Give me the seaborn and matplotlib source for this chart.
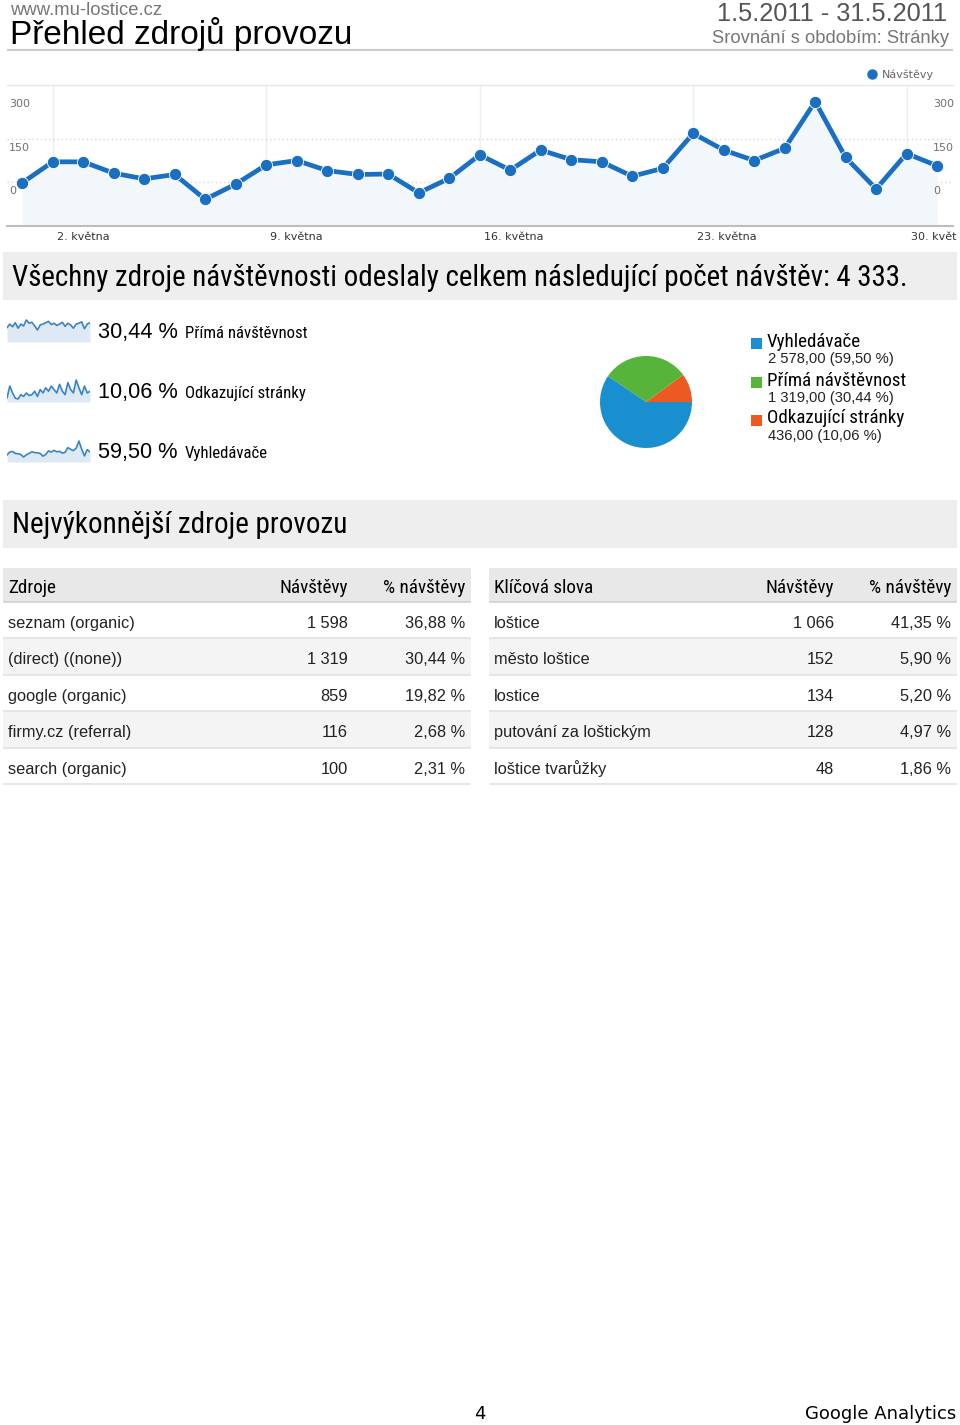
import numpy as np
import pandas as pd
import matplotlib
matplotlib.use("Agg")
import matplotlib.pyplot as plt
import matplotlib.transforms as mtransforms
from matplotlib.patches import Rectangle
from matplotlib.lines import Line2D
from matplotlib import font_manager
import seaborn as sns

# ---------------- data ----------------
site_name = "www.mu-lostice.cz"
report_title = "Přehled zdrojů provozu"
date_range = "1.5.2011 - 31.5.2011"
compare_text = "Srovnání s obdobím: Stránky"

days = list(range(1, 32))
visits = [99, 147, 147, 121, 108, 118, 61, 96, 140, 150, 127, 118, 119, 76, 109, 163,
          128, 174, 152, 147, 114, 132, 212, 174, 150, 178, 285, 157, 85, 166, 138]
series_name = "Návštěvy"
x_tick_days = [2, 9, 16, 23, 30]
x_tick_labels = ["2. května", "9. května", "16. května", "23. května", "30. květ"]
y_label_values = [100, 200, 300]
y_grid_values = [100, 200]
y_tick_labels = ["0", "150", "300"]

total_text = "Všechny zdroje návštěvnosti odeslaly celkem následující počet návštěv: 4 333."

spark_names = ["Přímá návštěvnost", "Odkazující stránky", "Vyhledávače"]
spark_pcts = ["30,44 %", "10,06 %", "59,50 %"]
spark_direct = [36, 44, 38, 47, 35, 44, 40, 53, 46, 48, 40, 31, 42, 44, 47, 50,
                43, 46, 41, 44, 48, 39, 46, 42, 35, 44, 46, 49, 34, 44, 47]
spark_referral = [6, 20, 12, 6, 5, 10, 8, 12, 9, 10, 14, 8, 16, 12, 18, 14,
                  20, 16, 12, 22, 14, 10, 24, 16, 12, 27, 18, 10, 20, 12, 14]
spark_search = [58, 80, 84, 70, 68, 62, 44, 60, 70, 82, 76, 74, 70, 50, 62, 88,
                80, 92, 82, 85, 72, 78, 112, 100, 90, 108, 160, 100, 52, 98, 80]

pie_labels = ["Odkazující stránky", "Přímá návštěvnost", "Vyhledávače"]
pie_values = [436, 1319, 2578]
pie_colors = ["#ec5a22", "#56b43a", "#1a8fd0"]
legend_names = ["Vyhledávače", "Přímá návštěvnost", "Odkazující stránky"]
legend_values = ["2 578,00 (59,50 %)", "1 319,00 (30,44 %)", "436,00 (10,06 %)"]
legend_colors = ["#1a8fd0", "#56b43a", "#ec5a22"]

section_title = "Nejvýkonnější zdroje provozu"
src_header = ["Zdroje", "Návštěvy", "% návštěvy"]
src_names = ["seznam (organic)", "(direct) ((none))", "google (organic)",
             "firmy.cz (referral)", "search (organic)"]
src_visits = [1598, 1319, 859, 116, 100]
src_pct = [36.88, 30.44, 19.82, 2.68, 2.31]
kw_header = ["Klíčová slova", "Návštěvy", "% návštěvy"]
kw_names = ["loštice", "město loštice", "lostice", "putování za loštickým", "loštice tvarůžky"]
kw_visits = [1066, 152, 134, 128, 48]
kw_pct = [41.35, 5.90, 5.20, 4.97, 1.86]
page_number = "4"
footer_brand = "Google Analytics"

# ---------------- style ----------------
sns.set_style("white")
plt.rcParams["font.family"] = ["DejaVu Sans"]

SANS = "Liberation Sans"
avail = {f.name for f in font_manager.fontManager.ttflist}
pref = ["Roboto Condensed", "Archivo Narrow", "Liberation Sans"]
NARROW_NAME = next((p for p in pref if p in avail), "Liberation Sans")
NARROW = [NARROW_NAME, "Liberation Sans"]
NW = "normal"

BLUE = "#1a6fc0"
W, H = 960, 1425
fig = plt.figure(figsize=(W / 100, H / 100), dpi=100)
fig.patch.set_facecolor("white")
renderer = fig.canvas.get_renderer()


def rect(x0, y0, x1, y1):
    return [x0 / W, 1 - y1 / H, (x1 - x0) / W, (y1 - y0) / H]


def fit(t, target):
    w = t.get_window_extent(renderer).width
    if w > 0:
        t.set_fontsize(t.get_fontsize() * target / w)
    return t.get_fontsize()


bg = fig.add_axes([0, 0, 1, 1])
bg.set_xlim(0, W)
bg.set_ylim(H, 0)
bg.axis("off")

# ---------------- header ----------------
bg.text(10, 14.5, site_name, family=SANS, size=13.3, color="#777777", va="baseline")
bg.text(10, 44, report_title, family=SANS, size=24, color="black", va="baseline")
bg.text(947, 21, date_range, family=SANS, size=18.3, color="#555555", ha="right", va="baseline")
bg.text(949, 43, compare_text, family=SANS, size=13.2, color="#777777", ha="right", va="baseline")
bg.hlines(50, 7, 953, color="#cccccc", lw=1.5)

# ---------------- main line chart ----------------
ax = fig.add_axes(rect(7, 85, 953, 226))
df = pd.DataFrame({"day": days, "visits": visits})
ax.fill_between(df["day"], df["visits"], color="#f2f7fb", zorder=1, lw=0)
sns.lineplot(data=df, x="day", y="visits", ax=ax, color=BLUE, lw=3.4, marker="o",
             markersize=8.8, markeredgecolor="white", markeredgewidth=0.6, zorder=3,
             legend=False)
ax.set_xlim(0.5, 31.52)
ax.set_ylim(0, 323)
ax.set_xlabel("")
ax.set_ylabel("")
ax.set_yticks(y_grid_values)
ax.tick_params(axis="y", length=0, labelleft=False)
ax.yaxis.grid(True, ls=(0, (1, 2)), color="#d5d5d5", lw=1)
ax.set_xticks(x_tick_days)
ax.set_xticklabels(x_tick_labels, fontsize=8, color="#333333")
ax.tick_params(axis="x", length=8, width=1, color="#c8c8c8", direction="out", pad=-3.5)
shift = mtransforms.ScaledTranslation(4 / 100, 0, fig.dpi_scale_trans)
for lbl in ax.get_xticklabels():
    lbl.set_ha("left")
    lbl.set_transform(lbl.get_transform() + shift)
ax.xaxis.grid(True, color="#eeeeee", lw=1)
for s in ["left", "right"]:
    ax.spines[s].set_visible(False)
ax.spines["top"].set_color("#e6e6e6")
ax.spines["top"].set_linewidth(1)
ax.spines["bottom"].set_color("#bdbdbd")
ax.spines["bottom"].set_linewidth(1.5)

trans_y = mtransforms.blended_transform_factory(ax.transAxes, ax.transData)
down = mtransforms.ScaledTranslation(0, -4 / 100, fig.dpi_scale_trans)
for v, lab in zip(y_label_values, y_tick_labels):
    ax.text(0.002, v, lab, transform=trans_y + down, ha="left", va="top",
            fontsize=8, color="#707070")
    ax.text(0.979, v, lab, transform=trans_y + down, ha="left", va="top",
            fontsize=8, color="#707070")

handle = Line2D([], [], ls="", marker="o", color=BLUE, markersize=6.5)
ax.legend([handle], [series_name], loc="center right", frameon=False,
          bbox_to_anchor=(934 / W, 1 - 75 / H), bbox_transform=fig.transFigure,
          fontsize=8, labelcolor="#666666", handletextpad=0.4, handlelength=1.0,
          borderpad=0, borderaxespad=0)

# ---------------- banner ----------------
bg.add_patch(Rectangle((3, 252), 954, 48, color="#eeeeee", lw=0))
t = bg.text(12, 286, total_text, family=NARROW, weight=NW, size=20, color="black", va="baseline")
fit(t, 896)

# ---------------- sparklines ----------------
spark_sets = [spark_direct, spark_referral, spark_search]
spark_boxes = [(316, 342, 4, 12), (376, 402, 4, 3), (436, 462, 5, 5)]
spark_base = [338, 398, 458]
spark_txt = []
for vals, (y0, y1, tm, bm), base, pct, nm in zip(spark_sets, spark_boxes, spark_base,
                                                 spark_pcts, spark_names):
    axs = fig.add_axes(rect(7, y0, 90, y1))
    axs.patch.set_alpha(0)
    vmin, vmax = min(vals), max(vals)
    inner = (y1 - y0) - tm - bm
    per = (vmax - vmin) / inner
    lo = vmin - bm * per
    hi = vmax + tm * per
    axs.fill_between(days, vals, lo, color="#dde9f5", lw=0)
    sns.lineplot(x=days, y=vals, ax=axs, color="#3b84c4", lw=1.2)
    axs.set_xlim(1, 31)
    axs.set_ylim(lo, hi)
    axs.axis("off")
    bg.text(98, base, pct, family=SANS, size=15.7, color="black", va="baseline")
    spark_txt.append(bg.text(185, base, nm, family=NARROW, weight=NW, size=11, color="black", va="baseline"))
fs = fit(spark_txt[0], 122)
for tt in spark_txt[1:]:
    tt.set_fontsize(fs)

# ---------------- pie ----------------
axp = fig.add_axes(rect(600, 356, 692, 448))
axp.pie(pie_values, colors=pie_colors, startangle=0, counterclock=True, radius=1,
        wedgeprops=dict(linewidth=0))
axp.set_xlim(-1, 1)
axp.set_ylim(-1, 1)
axp.set_aspect("equal")

leg_sq = [338, 377, 415]
leg_nm = [346.5, 385.5, 423]
leg_val = [363, 401.5, 440]
leg_txt = []
for c, n, v, sy, ny, vy in zip(legend_colors, legend_names, legend_values, leg_sq, leg_nm, leg_val):
    bg.add_patch(Rectangle((750.5, sy), 11, 11, color=c, lw=0))
    leg_txt.append(bg.text(767, ny, n, family=NARROW, weight=NW, size=12, color="black", va="baseline"))
    bg.text(768, vy, v, family=SANS, size=10.6, color="#222222", va="baseline")
fs = fit(leg_txt[1], 139)
for tt in leg_txt:
    tt.set_fontsize(fs)

# ---------------- section title ----------------
bg.add_patch(Rectangle((3, 500), 954, 48, color="#eeeeee", lw=0))
t = bg.text(12, 533, section_title, family=NARROW, weight=NW, size=20, color="black", va="baseline")
fit(t, 335)


# ---------------- tables ----------------
def fmt_int(v):
    return f"{v:,}".replace(",", " ")


def fmt_pct(p):
    return f"{p:.2f} %".replace(".", ",")


hdr_txt = []


def draw_table(x0, x1, header, names, vals, pcts, c2, c3):
    top, hb, rh = 568, 602, 36.4
    bg.add_patch(Rectangle((x0, top), x1 - x0, hb - top, color="#e8e8e8", lw=0))
    bg.hlines(hb, x0, x1, color="#d2d2d2", lw=1.2)
    hdr_txt.append(bg.text(x0 + 5, 593, header[0], family=NARROW, weight=NW, size=12, color="black", va="baseline"))
    hdr_txt.append(bg.text(c2, 593, header[1], family=NARROW, weight=NW, size=12, color="black", va="baseline", ha="right"))
    hdr_txt.append(bg.text(c3, 593, header[2], family=NARROW, weight=NW, size=12, color="black", va="baseline", ha="right"))
    for i, (n, v, p) in enumerate(zip(names, vals, pcts)):
        ry = hb + i * rh
        if i % 2 == 1:
            bg.add_patch(Rectangle((x0, ry), x1 - x0, rh, color="#f4f4f4", lw=0))
        bg.hlines(ry + rh, x0, x1, color="#e2e2e2", lw=1.2)
        by = ry + 26
        bg.text(x0 + 5, by, n, family=SANS, size=11.8, color="#222222", va="baseline")
        bg.text(c2, by, fmt_int(v), family=SANS, size=11.8, color="#222222", va="baseline", ha="right")
        bg.text(c3, by, fmt_pct(p), family=SANS, size=11.8, color="#222222", va="baseline", ha="right")


draw_table(3, 471, src_header, src_names, src_visits, src_pct, 348, 465)
draw_table(489, 957, kw_header, kw_names, kw_visits, kw_pct, 834, 951)
fs = fit(hdr_txt[1], 68)
for tt in hdr_txt:
    tt.set_fontsize(fs)

# ---------------- footer ----------------
bg.text(480, 1419, page_number, family="DejaVu Sans", size=13, color="black", ha="center", va="baseline")
bg.text(956, 1419, footer_brand, family="DejaVu Sans", size=13, color="black", ha="right", va="baseline")

fig.savefig("out.png", dpi=100, facecolor="white")
